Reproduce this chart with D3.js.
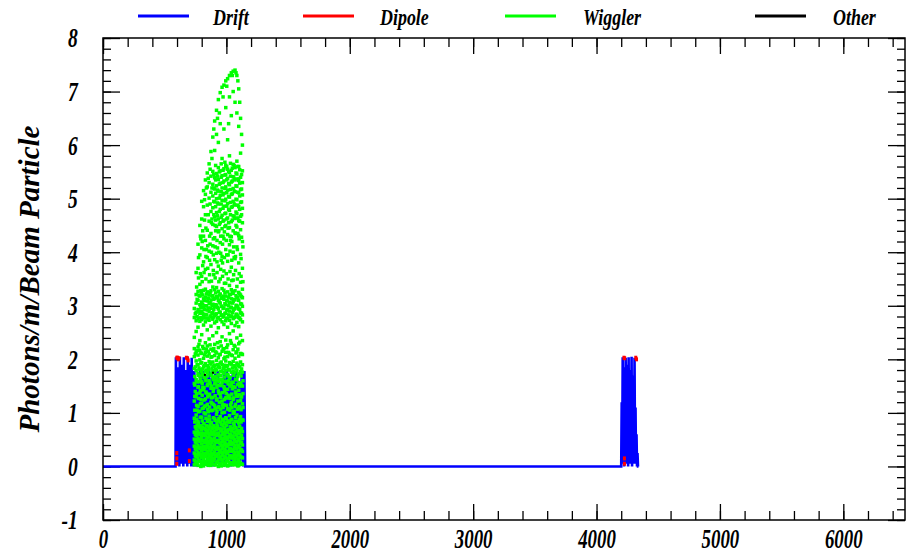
<!DOCTYPE html>
<html>
<head>
<meta charset="utf-8">
<script src="https://cdn.jsdelivr.net/npm/d3@7"></script>
<style>
body { margin: 0; background: #fff; }
text { font-family: "Liberation Serif", serif; font-weight: bold; font-style: italic; }
</style>
</head>
<body>
<div id="chart"></div>
<script>
// tick labels
var xTicks = [0, 1000, 2000, 3000, 4000, 5000, 6000];
var yTicks = [-1, 0, 1, 2, 3, 4, 5, 6, 7, 8];

// series names + colours
var seriesNames = ["Drift", "Dipole", "Wiggler", "Other"];
var seriesColors = ["#0000ff", "#ff0000", "#00ff00", "#000000"];

// Drift (line through all points, incl. zero baseline)
var driftX = [0, 588, 591, 595, 599, 603, 607, 611, 615, 619, 623, 627, 631, 635, 639, 643, 647, 651, 655, 659, 663, 667, 671, 675, 679, 683, 687, 691, 695, 699, 703, 707, 711, 715, 719, 723, 727, 731,
	740, 752, 764, 776, 788, 800, 812, 824, 836, 848, 860, 872, 884, 896, 908, 920, 932, 944, 956, 968, 980, 992, 1004, 1016, 1028, 1040, 1052, 1064, 1076, 1088, 1100, 1112, 1124, 1136, 1146, 1152,
	4200, 4204, 4208, 4212, 4216, 4220, 4224, 4228, 4232, 4236, 4240, 4244, 4248, 4252, 4256, 4260, 4264, 4268, 4272, 4276, 4280, 4284, 4288, 4292, 4296, 4300, 4304, 4308, 4312, 4316, 4320, 4324, 4328, 4332, 4336, 4340, 4346, 4352, 6500];
var driftY = [0, 0, 2.04, 0.1, 1.25, 0.05, 1.85, 0.2, 1.3, 0, 2.05, 0.15, 1.2, 0.05, 1.9, 0.1, 1.35, 0, 2.04, 0.2, 1.15, 0.05, 1.8, 0.1, 1.3, 0, 2.05, 0.15, 1.25, 0.05, 1.9, 0.1, 1.3, 0, 2.03, 0.2, 1.2, 0,
	1.78, 0, 1.6, 0.1, 1.78, 0, 1.78, 0.2, 1.7, 0, 1.78, 0.1, 1.65, 0, 1.78, 0.05, 1.78, 0, 1.55, 0.1, 1.78, 0, 1.78, 0.15, 1.7, 0, 1.78, 0.05, 1.78, 0, 1.6, 0.1, 1.78, 0, 1.78, 0,
	0, 1.2, 0.05, 2.04, 0.1, 1.35, 0, 1.85, 0.15, 2.03, 0.05, 1.25, 0.1, 1.9, 0, 2.04, 0.2, 1.3, 0.05, 1.8, 0.1, 2.05, 0, 1.2, 0.15, 1.7, 0.05, 2.03, 0.1, 1.1, 0.05, 0.6, 0, 0.25, 0, 0];

// Dipole
var dipoleX = [598, 604, 610, 616, 676, 684, 690, 598, 598, 598, 700, 700, 4222, 4228, 4318, 4324, 4226, 4226];
var dipoleY = [2.03, 2.03, 2.0, 2.02, 2.03, 2.02, 1.98, 0.05, 0.15, 0.25, 0.1, 0.3, 2.03, 2.02, 2.03, 2.0, 0.05, 0.15];

// Wiggler: [s, photons/m values] per s column
var wigglerCols = [
	[740, [0.03, 0.12, 0.25, 0.38, 0.51, 0.64, 0.9, 1.22, 1.55, 1.83, 2.05, 2.2, 2.41, 2.78, 2.95]],
	[748, [0.09, 0.2, 0.33, 0.46, 0.6, 0.74, 1.4, 1.86, 2.1, 2.85]],
	[755, [0.07, 0.18, 0.31, 0.44, 0.58, 0.7, 0.96, 1.3, 1.62, 1.79, 1.97, 2.14, 2.52, 2.72, 2.88, 3.05, 3.21, 3.62]],
	[763, [0.05, 0.22, 0.36, 0.5, 0.63, 0.77, 1.05, 1.9, 2.16, 2.8, 3.12]],
	[770, [0.02, 0.15, 0.27, 0.4, 0.53, 0.66, 0.84, 1.12, 1.48, 1.74, 1.9, 2.08, 2.23, 2.6, 2.76, 2.93, 3.1, 3.27, 3.7, 4.15]],
	[778, [0.11, 0.24, 0.35, 0.49, 0.61, 0.75, 1.58, 1.84, 2.28, 2.9, 3.2]],
	[785, [0.09, 0.21, 0.34, 0.47, 0.6, 0.72, 1.03, 1.37, 1.69, 1.81, 1.99, 2.17, 2.35, 2.71, 2.86, 3.02, 3.18, 3.4, 3.95, 4.5]],
	[793, [0.0, 0.1, 0.23, 0.36, 0.5, 0.62, 0.76, 1.25, 1.93, 2.12, 2.78, 2.97, 3.28, 4.25]],
	[800, [0.05, 0.17, 0.29, 0.42, 0.55, 0.68, 0.92, 1.18, 1.58, 1.77, 1.94, 2.11, 2.46, 2.74, 2.9, 3.07, 3.24, 3.55, 4.08, 4.62, 4.95]],
	[808, [0.08, 0.22, 0.34, 0.48, 0.6, 0.73, 1.48, 1.82, 2.24, 2.86, 3.03, 3.2, 3.75, 4.4]],
	[815, [0.01, 0.13, 0.24, 0.37, 0.49, 0.62, 0.8, 1.09, 1.43, 1.72, 1.86, 2.02, 2.2, 2.64, 2.8, 2.97, 3.13, 3.29, 3.82, 4.3, 4.85, 5.15]],
	[823, [0.04, 0.18, 0.31, 0.44, 0.58, 0.71, 1.12, 1.88, 2.08, 2.77, 2.93, 3.1, 4.6, 4.98]],
	[830, [0.08, 0.2, 0.33, 0.45, 0.57, 0.69, 0.98, 1.26, 1.64, 1.78, 1.92, 2.13, 2.31, 2.7, 2.84, 3.0, 3.16, 3.31, 3.68, 4.22, 4.7, 5.08, 5.35]],
	[838, [0.1, 0.24, 0.37, 0.5, 0.63, 0.76, 1.37, 1.8, 2.19, 2.83, 3.0, 3.22, 4.05, 5.2]],
	[845, [0.04, 0.16, 0.28, 0.41, 0.54, 0.67, 0.87, 1.16, 1.51, 1.75, 1.88, 2.06, 2.25, 2.55, 2.77, 2.92, 3.09, 3.26, 3.9, 4.41, 4.88, 5.22, 5.48]],
	[853, [0.02, 0.12, 0.23, 0.35, 0.47, 0.61, 0.74, 1.02, 1.85, 2.15, 2.75, 2.96, 3.14, 4.7, 5.38]],
	[860, [0.06, 0.19, 0.3, 0.43, 0.56, 0.7, 0.94, 1.33, 1.6, 1.8, 1.96, 2.1, 2.38, 2.73, 2.89, 3.04, 3.2, 3.45, 4.02, 4.58, 5.01, 5.3, 5.65]],
	[868, [0.09, 0.21, 0.36, 0.49, 0.62, 0.77, 1.55, 1.93, 2.27, 2.81, 3.06, 3.25, 4.15, 4.9, 5.55]],
	[875, [0.02, 0.14, 0.26, 0.39, 0.52, 0.65, 0.82, 1.2, 1.46, 1.73, 1.91, 2.04, 2.19, 2.62, 2.79, 2.95, 3.11, 3.28, 3.77, 4.35, 4.76, 5.12, 5.42, 5.88]],
	[883, [0.05, 0.17, 0.32, 0.45, 0.59, 0.72, 1.18, 1.84, 2.05, 2.86, 3.01, 3.18, 4.62, 5.2, 5.75]],
	[890, [0.1, 0.22, 0.35, 0.48, 0.6, 0.71, 1.05, 1.29, 1.66, 1.79, 1.95, 2.16, 2.44, 2.75, 2.87, 3.03, 3.19, 3.35, 4.12, 4.52, 4.83, 5.05, 5.27, 5.51, 6.15]],
	[898, [0.11, 0.24, 0.37, 0.5, 0.64, 0.76, 1.46, 1.87, 2.2, 2.79, 2.93, 3.12, 3.58, 4.7, 4.95, 5.2, 5.45, 6.3]],
	[905, [0.03, 0.15, 0.27, 0.4, 0.53, 0.66, 0.89, 1.14, 1.54, 1.76, 1.89, 2.07, 2.28, 2.68, 2.82, 2.98, 3.14, 3.3, 3.86, 4.27, 4.66, 4.94, 5.18, 5.39, 5.9, 6.45]],
	[913, [0.03, 0.2, 0.33, 0.46, 0.59, 0.73, 1.08, 1.82, 2.14, 2.84, 3.02, 3.24, 4.4, 4.6, 4.85, 5.1, 5.35, 5.62]],
	[920, [0.07, 0.19, 0.32, 0.45, 0.58, 0.69, 0.97, 1.24, 1.61, 1.8, 1.98, 2.12, 2.5, 2.71, 2.85, 3.01, 3.17, 3.34, 3.98, 4.48, 4.74, 5.0, 5.24, 5.47, 6.2, 6.65]],
	[928, [0.09, 0.23, 0.35, 0.48, 0.62, 0.75, 1.52, 1.9, 2.31, 2.77, 2.97, 3.15, 4.08, 4.68, 4.92, 5.16, 5.42, 6.5]],
	[935, [0.0, 0.12, 0.24, 0.36, 0.49, 0.62, 0.85, 1.1, 1.41, 1.71, 1.87, 2.03, 2.22, 2.59, 2.78, 2.94, 3.1, 3.27, 3.74, 4.38, 4.62, 4.9, 5.14, 5.36, 5.58, 6.05, 6.85]],
	[943, [0.05, 0.16, 0.3, 0.44, 0.57, 0.71, 1.2, 1.85, 2.09, 2.88, 3.07, 3.2, 4.52, 4.76, 5.01, 5.27, 5.5, 6.6]],
	[950, [0.05, 0.18, 0.3, 0.43, 0.55, 0.68, 0.93, 1.35, 1.63, 1.78, 1.93, 2.09, 2.33, 2.74, 2.88, 3.05, 3.22, 3.5, 4.18, 4.55, 4.8, 5.06, 5.29, 5.52, 6.4, 6.98]],
	[958, [0.01, 0.13, 0.26, 0.39, 0.52, 0.66, 0.78, 1.62, 1.95, 2.25, 2.82, 2.99, 3.14, 3.85, 4.65, 4.9, 5.13, 5.4, 5.65]],
	[965, [0.09, 0.21, 0.33, 0.46, 0.59, 0.7, 1.0, 1.22, 1.56, 1.77, 1.9, 2.15, 2.42, 2.7, 2.83, 2.99, 3.15, 3.32, 3.92, 4.44, 4.69, 4.97, 5.2, 5.43, 5.75, 7.08]],
	[973, [0.08, 0.22, 0.36, 0.49, 0.63, 0.76, 1.1, 1.83, 2.18, 2.79, 2.95, 3.18, 4.3, 4.58, 4.82, 5.07, 5.3, 5.53, 6.9]],
	[980, [0.02, 0.14, 0.27, 0.4, 0.52, 0.64, 0.86, 1.15, 1.49, 1.74, 1.85, 2.01, 2.2, 2.65, 2.8, 2.96, 3.12, 3.29, 3.65, 4.25, 4.6, 4.86, 5.1, 5.33, 5.56, 6.3, 7.12]],
	[988, [0.04, 0.18, 0.32, 0.45, 0.58, 0.72, 1.41, 1.89, 2.04, 2.86, 3.04, 3.24, 4.48, 4.72, 4.96, 5.19, 5.44, 5.68]],
	[995, [0.06, 0.17, 0.29, 0.42, 0.55, 0.67, 0.91, 1.28, 1.59, 1.79, 1.97, 2.13, 2.36, 2.72, 2.86, 3.02, 3.18, 3.42, 4.05, 4.5, 4.73, 4.99, 5.22, 5.45, 5.62, 6.7, 7.2]],
	[1003, [0.1, 0.24, 0.37, 0.51, 0.64, 0.77, 1.28, 1.86, 2.22, 2.76, 2.92, 3.1, 3.95, 4.62, 4.86, 5.11, 5.35, 5.6, 7.1]],
	[1010, [0.01, 0.13, 0.25, 0.38, 0.5, 0.63, 0.83, 1.07, 1.44, 1.72, 1.88, 2.05, 2.27, 2.6, 2.77, 2.93, 3.09, 3.26, 3.83, 4.33, 4.64, 4.91, 5.16, 5.38, 5.55, 6.1, 7.24]],
	[1018, [0.02, 0.15, 0.28, 0.41, 0.55, 0.69, 1.6, 1.81, 2.13, 2.83, 3.0, 3.16, 4.55, 4.8, 5.04, 5.28, 5.51, 6.4]],
	[1025, [0.08, 0.2, 0.32, 0.44, 0.57, 0.69, 0.95, 1.3, 1.65, 1.8, 1.94, 2.1, 2.48, 2.73, 2.9, 3.06, 3.21, 3.38, 4.14, 4.46, 4.78, 5.03, 5.26, 5.49, 5.8, 6.9, 7.3]],
	[1033, [0.07, 0.2, 0.34, 0.47, 0.6, 0.74, 1.15, 1.92, 2.35, 2.8, 2.97, 3.21, 4.22, 4.7, 4.93, 5.17, 5.42, 5.66]],
	[1040, [0.04, 0.16, 0.28, 0.41, 0.53, 0.66, 0.88, 1.19, 1.52, 1.76, 1.91, 2.08, 2.3, 2.67, 2.81, 2.97, 3.13, 3.3, 3.72, 4.29, 4.57, 4.84, 5.08, 5.31, 5.53, 6.55, 7.35]],
	[1048, [0.03, 0.16, 0.3, 0.43, 0.57, 0.71, 1.45, 1.84, 2.07, 2.87, 3.05, 3.26, 4.6, 4.85, 5.09, 5.33, 5.57, 7.3]],
	[1055, [0.07, 0.19, 0.31, 0.44, 0.56, 0.7, 0.99, 1.25, 1.57, 1.78, 1.96, 2.18, 2.53, 2.76, 2.91, 3.08, 3.23, 3.48, 4.0, 4.4, 4.68, 4.95, 5.19, 5.41, 5.64, 7.0, 7.38]],
	[1063, [0.1, 0.23, 0.36, 0.5, 0.63, 0.77, 1.02, 1.88, 2.26, 2.78, 2.94, 3.12, 3.9, 4.66, 4.9, 5.14, 5.38, 5.62]],
	[1070, [0.03, 0.15, 0.26, 0.39, 0.51, 0.64, 0.84, 1.12, 1.47, 1.75, 1.86, 2.02, 2.24, 2.63, 2.79, 2.95, 3.11, 3.28, 3.88, 4.36, 4.63, 4.88, 5.13, 5.35, 5.58, 6.8, 7.4]],
	[1078, [0.05, 0.19, 0.33, 0.46, 0.6, 0.73, 1.35, 1.83, 2.12, 2.84, 3.01, 3.19, 4.5, 4.75, 4.99, 5.24, 5.48, 7.35]],
	[1085, [0.08, 0.2, 0.33, 0.46, 0.58, 0.68, 0.96, 1.31, 1.62, 1.79, 1.93, 2.14, 2.4, 2.69, 2.84, 3.0, 3.16, 3.36, 4.1, 4.47, 4.72, 4.98, 5.23, 5.46, 5.7, 6.6, 7.3]],
	[1093, [0.01, 0.14, 0.27, 0.4, 0.54, 0.67, 1.22, 1.9, 2.19, 2.81, 2.98, 3.15, 4.35, 4.64, 4.88, 5.12, 5.37, 5.6, 7.2]],
	[1100, [0.02, 0.13, 0.25, 0.37, 0.5, 0.62, 0.81, 1.09, 1.42, 1.73, 1.89, 2.06, 2.29, 2.61, 2.78, 2.94, 3.1, 3.25, 3.8, 4.31, 4.59, 4.85, 5.11, 5.34, 5.6, 6.35, 7.05]],
	[1108, [0.08, 0.21, 0.35, 0.48, 0.62, 0.75, 1.5, 1.86, 2.32, 2.77, 2.93, 3.22, 4.58, 4.8, 5.05, 5.29, 5.54, 6.8]],
	[1115, [0.06, 0.18, 0.3, 0.43, 0.55, 0.67, 0.93, 1.23, 1.55, 1.77, 1.95, 2.11, 2.45, 2.74, 2.87, 3.04, 3.2, 3.44, 3.96, 4.42, 4.67, 4.93, 5.17, 5.4, 5.85, 6.5]],
	[1123, [0.04, 0.17, 0.31, 0.45, 0.58, 0.71, 1.3, 1.82, 2.1, 2.86, 3.03, 3.17, 4.28, 4.7, 4.94, 5.18, 5.45, 6.2]],
	[1130, [0.04, 0.16, 0.28, 0.4, 0.52, 0.65, 0.87, 1.17, 1.5, 1.76, 1.9, 2.09, 2.35, 2.7, 2.83, 2.99, 3.15, 3.31, 3.7, 4.2, 4.55, 4.82, 5.07, 5.3, 5.52, 6.0]]
];
// Wiggler, extra points in the 0.8-1.7 and 3.4-4.5 bands
var wigglerMidCols = [
	[744, [0.83, 1.05, 1.31, 1.52, 1.68]],
	[759, [0.88, 1.14, 1.36, 1.58, 3.35]],
	[774, [0.81, 1.02, 1.27, 1.49, 1.7, 3.52, 3.9]],
	[789, [0.92, 1.17, 1.42, 1.63, 3.6, 4.3]],
	[804, [0.85, 1.08, 1.33, 1.55, 1.71, 3.45, 4.2]],
	[819, [0.8, 1.0, 1.24, 1.47, 1.66, 3.62, 4.05]],
	[834, [0.9, 1.13, 1.39, 1.6, 3.5, 3.92, 4.45]],
	[849, [0.84, 1.06, 1.3, 1.53, 1.69, 3.7, 4.12]],
	[864, [0.87, 1.11, 1.35, 1.57, 3.58, 3.85, 4.3]],
	[879, [0.82, 1.04, 1.28, 1.5, 1.7, 3.46, 4.0, 4.55]],
	[894, [0.91, 1.16, 1.4, 1.62, 3.66, 3.95, 4.25]],
	[909, [0.86, 1.09, 1.32, 1.56, 1.68, 3.52, 4.1, 4.5]],
	[924, [0.8, 1.03, 1.26, 1.48, 1.65, 3.62, 3.82, 4.22]],
	[939, [0.89, 1.12, 1.37, 1.59, 3.45, 4.0, 4.4]],
	[954, [0.83, 1.07, 1.29, 1.51, 1.7, 3.68, 3.98, 4.3]],
	[969, [0.88, 1.15, 1.38, 1.61, 3.55, 3.8, 4.15]],
	[984, [0.81, 1.01, 1.25, 1.46, 1.67, 3.42, 3.9, 4.38]],
	[999, [0.9, 1.14, 1.36, 1.58, 3.6, 4.22]],
	[1014, [0.85, 1.08, 1.33, 1.54, 1.69, 3.5, 3.95, 4.45]],
	[1029, [0.82, 1.05, 1.27, 1.5, 1.66, 3.64, 4.02, 4.3]],
	[1044, [0.87, 1.1, 1.35, 1.57, 3.47, 3.85, 4.2]],
	[1059, [0.8, 1.03, 1.28, 1.49, 1.7, 3.58, 4.1]],
	[1074, [0.91, 1.16, 1.39, 1.62, 3.66, 3.92, 4.35]],
	[1089, [0.84, 1.07, 1.31, 1.53, 1.68, 3.5, 4.05]],
	[1104, [0.88, 1.12, 1.34, 1.56, 3.6, 4.25]],
	[1119, [0.83, 1.06, 1.3, 1.52, 1.69, 3.55, 3.88]],
	[1134, [0.86, 1.1, 1.36, 1.6, 3.45, 4.1]]
];

// Other
var otherX = [826, 891];
var otherY = [1.71, 1.75];

var width = 906, height = 555;
var margin = { left: 103, right: 1, top: 38, bottom: 35 };

var svg = d3.select("#chart").append("svg")
	.attr("width", width)
	.attr("height", height);

var x = d3.scaleLinear().domain([0, 6500]).range([margin.left, width - margin.right]);
var y = d3.scaleLinear().domain([-1, 8]).range([height - margin.bottom, margin.top]);

var x0 = x.range()[0], x1 = x.range()[1];
var y0 = y.range()[0], y1 = y.range()[1];

var xMinor = d3.range(0, 6501, 200);
var yMinor = d3.range(-1, 8.01, 0.2);

// axes: ticks point into the frame
function styleAxis(g) {
	g.select(".domain").remove();
	g.selectAll("line").attr("stroke", "#000").attr("stroke-width", 1.3);
}
function plain(d) { return String(d); }

svg.append("g").attr("transform", "translate(0," + y0 + ")")
	.call(d3.axisBottom(x).tickValues(xMinor).tickSize(-9).tickFormat(""))
	.call(styleAxis);
svg.append("g").attr("transform", "translate(0," + y1 + ")")
	.call(d3.axisTop(x).tickValues(xMinor).tickSize(-9).tickFormat(""))
	.call(styleAxis);
svg.append("g").attr("transform", "translate(0," + y1 + ")")
	.call(d3.axisTop(x).tickValues(xTicks).tickSize(-16).tickFormat(""))
	.call(styleAxis);
var xAxis = svg.append("g").attr("transform", "translate(0," + y0 + ")")
	.call(d3.axisBottom(x).tickValues(xTicks).tickSize(-16).tickPadding(9).tickFormat(plain))
	.call(styleAxis);

svg.append("g").attr("transform", "translate(" + x0 + ",0)")
	.call(d3.axisLeft(y).tickValues(yMinor).tickSize(-8).tickFormat(""))
	.call(styleAxis);
svg.append("g").attr("transform", "translate(" + x1 + ",0)")
	.call(d3.axisRight(y).tickValues(yMinor).tickSize(-8).tickFormat(""))
	.call(styleAxis);
svg.append("g").attr("transform", "translate(" + x1 + ",0)")
	.call(d3.axisRight(y).tickValues(yTicks).tickSize(-17).tickFormat(""))
	.call(styleAxis);
var yAxis = svg.append("g").attr("transform", "translate(" + x0 + ",0)")
	.call(d3.axisLeft(y).tickValues(yTicks).tickSize(-17).tickPadding(36).tickFormat(plain))
	.call(styleAxis);

// condensed bold italic labels
xAxis.selectAll("text")
	.style("font-size", "27px").attr("fill", "#000")
	.attr("transform", "scale(0.7,1)");
yAxis.selectAll("text")
	.style("font-size", "28px").attr("fill", "#000")
	.attr("transform", "scale(0.7,1)");

// clip so zigzags stay in the frame
svg.append("clipPath").attr("id", "clip")
	.append("rect").attr("x", x0).attr("y", y1).attr("width", x1 - x0).attr("height", y0 - y1);

var plot = svg.append("g").attr("clip-path", "url(#clip)");

// drift line
var driftPts = driftX.map(function(d, i) { return [d, driftY[i]]; });
plot.append("path")
	.datum(driftPts)
	.attr("fill", "none")
	.attr("stroke", seriesColors[0])
	.attr("stroke-width", 2.6)
	.attr("d", d3.line().x(function(d) { return x(d[0]); }).y(function(d) { return y(d[1]); }));

// dipole
plot.selectAll(".dip").data(dipoleX).enter().append("rect")
	.attr("x", function(d) { return x(d) - 1.5; })
	.attr("y", function(d, i) { return y(dipoleY[i]) - 2; })
	.attr("width", 3).attr("height", 4)
	.attr("fill", seriesColors[1]);

// wiggler dots
var wigPts = [];
wigglerCols.concat(wigglerMidCols).forEach(function(c) {
	c[1].forEach(function(v) { wigPts.push([c[0], v]); });
});
plot.selectAll(".wig").data(wigPts).enter().append("rect")
	.attr("x", function(d) { return x(d[0]) - 1.75; })
	.attr("y", function(d) { return y(d[1]) - 1.75; })
	.attr("width", 3.5).attr("height", 3.5)
	.attr("fill", seriesColors[2]);

// other
plot.selectAll(".oth").data(otherX).enter().append("rect")
	.attr("x", function(d) { return x(d) - 1; })
	.attr("y", function(d, i) { return y(otherY[i]) - 1; })
	.attr("width", 2).attr("height", 2)
	.attr("fill", seriesColors[3]);

// frame
svg.append("rect")
	.attr("x", x0).attr("y", y1)
	.attr("width", x1 - x0).attr("height", y0 - y1)
	.attr("fill", "none").attr("stroke", "#000").attr("stroke-width", 1.5);

// y title
svg.append("text")
	.attr("transform", "translate(39," + ((y0 + y1) / 2) + ") rotate(-90)")
	.attr("text-anchor", "middle")
	.attr("textLength", 307)
	.attr("lengthAdjust", "spacingAndGlyphs")
	.style("font-size", "30px")
	.text("Photons/m/Beam Particle");

// legend
var legendLineX = [138, 303, 505, 755];
var legendTextX = [213, 380, 583, 833];
var legend = svg.append("g");
seriesNames.forEach(function(name, i) {
	legend.append("line")
		.attr("x1", legendLineX[i]).attr("x2", legendLineX[i] + 51)
		.attr("y1", 16).attr("y2", 16)
		.attr("stroke", seriesColors[i]).attr("stroke-width", 3);
	legend.append("text")
		.attr("transform", "translate(" + legendTextX[i] + ",25) scale(0.78,1)")
		.style("font-size", "23px")
		.text(name);
});
</script>
</body>
</html>
